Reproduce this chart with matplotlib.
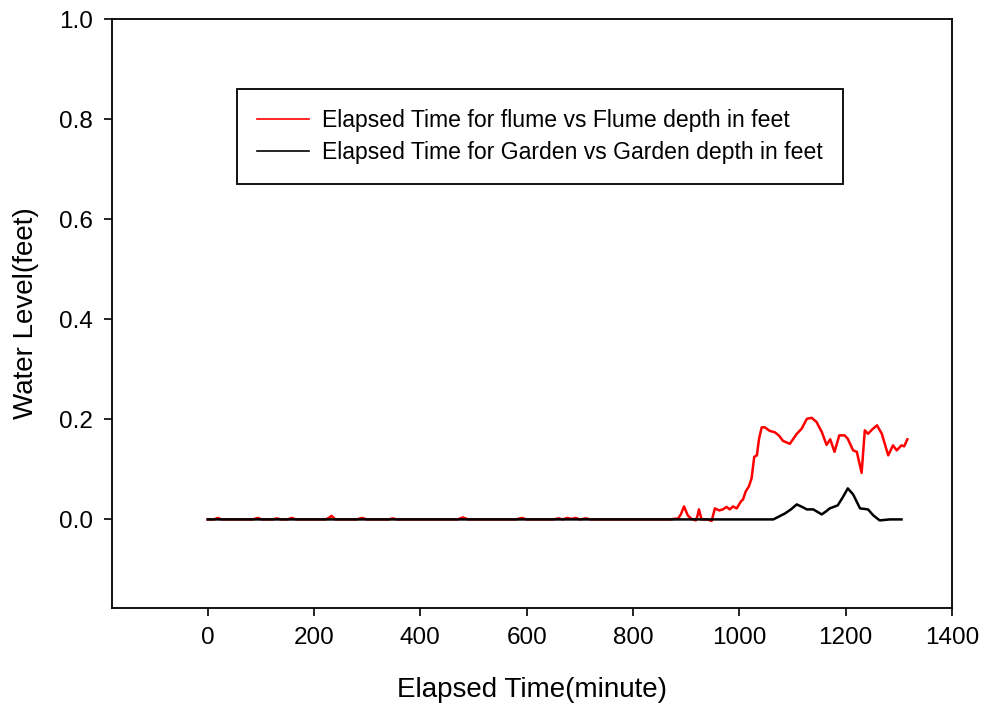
import matplotlib
matplotlib.use("Agg")
import matplotlib.pyplot as plt

plt.rcParams['font.family'] = ['Liberation Sans', 'DejaVu Sans']

# flume depth (red)
flume_t = [0, 12, 19, 26, 60, 85, 94, 102, 122, 130, 138, 150, 158, 166,
           222, 229, 233, 240, 280, 290, 300, 340, 348, 356, 470, 480, 490,
           580, 591, 600, 650, 660, 668, 676, 684, 692, 700, 712, 720, 760,
           800, 870, 885, 890, 896, 903, 910, 918, 921, 924, 929, 940, 948,
           954, 962, 969, 976, 982, 988, 995, 1003, 1007, 1012, 1018, 1023,
           1028, 1033, 1037, 1042, 1048, 1057, 1067, 1075, 1082, 1095, 1108,
           1117, 1127, 1136, 1145, 1155, 1164, 1171, 1179, 1188, 1198, 1204,
           1214, 1221, 1230, 1236, 1242, 1251, 1259, 1268, 1280, 1289, 1296,
           1305, 1310, 1316]
flume_d = [0.0, 0.0, 0.003, 0.0, 0.0, 0.0, 0.003, 0.0, 0.0, 0.002, 0.0, 0.0,
           0.003, 0.0, 0.0, 0.004, 0.007, 0.0, 0.0, 0.003, 0.0, 0.0, 0.002,
           0.0, 0.0, 0.004, 0.0, 0.0, 0.003, 0.0, 0.0, 0.002, 0.0, 0.003,
           0.001, 0.003, 0.0, 0.002, 0.0, 0.0, 0.0, 0.0, 0.002, 0.01, 0.026,
           0.008, 0.001, -0.002, 0.006, 0.02, 0.0, 0.0, -0.003, 0.022, 0.018,
           0.02, 0.025, 0.02, 0.026, 0.022, 0.036, 0.04, 0.056, 0.066, 0.082,
           0.125, 0.128, 0.161, 0.184, 0.184, 0.177, 0.174, 0.167, 0.157,
           0.151, 0.171, 0.181, 0.201, 0.203, 0.195, 0.175, 0.149, 0.16,
           0.135, 0.168, 0.168, 0.161, 0.138, 0.135, 0.093, 0.178, 0.171,
           0.181, 0.188, 0.171, 0.128, 0.148, 0.138, 0.148, 0.146, 0.16]

# garden depth (black)
garden_t = [0, 1050, 1064, 1075, 1086, 1097, 1108, 1118, 1127, 1139, 1147,
            1155, 1163, 1170, 1185, 1195, 1204, 1214, 1227, 1242, 1252, 1264,
            1283, 1305]
garden_d = [0.0, 0.0, 0.0, 0.006, 0.012, 0.02, 0.03, 0.025, 0.02, 0.02,
            0.015, 0.01, 0.016, 0.022, 0.028, 0.045, 0.062, 0.05, 0.022,
            0.02, 0.008, -0.002, 0.0, 0.0]

fig = plt.figure(figsize=(9.85, 7.13), dpi=100)
ax = fig.add_axes([0.1137, 0.1473, 0.8528, 0.826])

ax.plot(flume_t, flume_d, color='red', lw=1.8,
        label='Elapsed Time for flume vs Flume depth in feet')
ax.plot(garden_t, garden_d, color='black', lw=1.8,
        label='Elapsed Time for Garden vs Garden depth in feet')

ax.set_xlim(-180, 1400)
ax.set_ylim(-0.177, 1.0)
ax.set_xticks(range(0, 1401, 200))
ax.set_yticks([0.0, 0.2, 0.4, 0.6, 0.8, 1.0])
ax.set_yticklabels(['0.0', '0.2', '0.4', '0.6', '0.8', '1.0'])
ax.tick_params(direction='out', length=6, width=1.2, labelsize=17.5, pad=8)
for s in ax.spines.values():
    s.set_linewidth(1.3)

ax.set_xlabel('Elapsed Time(minute)', fontsize=20, labelpad=20)
ax.set_ylabel('Water Level(feet)', fontsize=20, labelpad=14)

leg = ax.legend(loc='upper left', bbox_to_anchor=(0.149, 0.881),
                borderaxespad=0, fontsize=16.6, handlelength=2.25,
                handletextpad=0.6, labelspacing=0.4, borderpad=0.85,
                fancybox=False, framealpha=1, edgecolor='black')
leg.get_frame().set_linewidth(1.3)
for h in leg.get_lines():
    h.set_linewidth(1.2)

fig.savefig('out.png', dpi=100)
